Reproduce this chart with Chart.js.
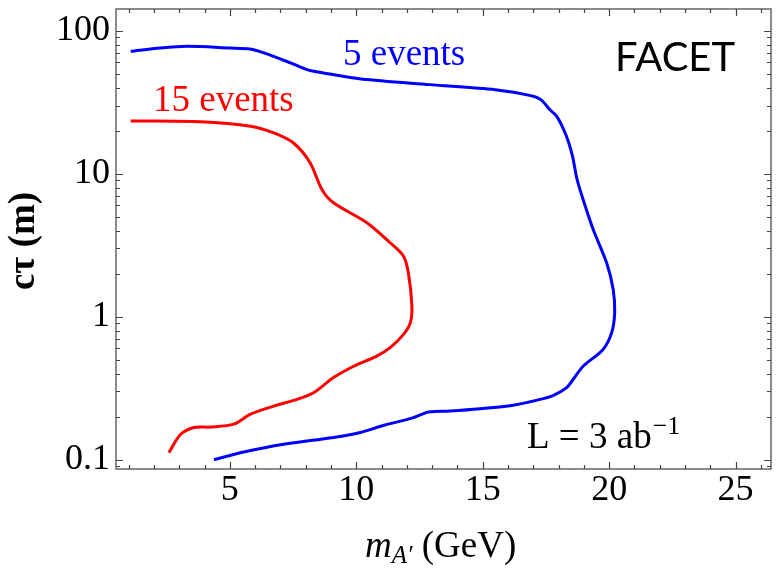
<!DOCTYPE html>
<html>
<head>
<meta charset="utf-8">
<script src="https://cdn.jsdelivr.net/npm/chart.js@4"></script>
<style>
  body { margin: 0; background: #fff; }
</style>
</head>
<body>
<canvas id="c" width="779" height="570"></canvas>
<script>
// 5 events contour (blue), traced from the top left round to the bottom
const blueMass = [1.08, 2.26, 3.3, 5.0, 5.8, 6.35, 7.4, 8.05, 8.7, 10.2, 12.9, 15.5, 16.9, 17.3, 17.65, 17.93, 18.3, 18.55, 18.72, 18.97, 19.37, 19.9, 20.16, 20.22, 20.1, 19.76, 18.97, 18.58, 18.32, 17.8, 17.27, 16.2, 14.9, 13.7, 12.92, 12.66, 12.2, 11.1, 10.16, 9.1, 7.13, 5.55, 4.37];
const blueCtau = [71.8, 75.8, 77.8, 75.8, 74.6, 70, 59.6, 53.5, 50.7, 46, 42, 38.7, 35.2, 33, 28.1, 25.2, 18.5, 13.3, 9.3, 6.6, 4.07, 2.38, 1.55, 1.07, 0.773, 0.59, 0.45, 0.365, 0.319, 0.282, 0.264, 0.24, 0.227, 0.219, 0.216, 0.21, 0.195, 0.174, 0.155, 0.143, 0.128, 0.113, 0.1];

// 15 events contour (red)
const redMass = [1.08, 3.84, 5.82, 6.74, 7.52, 8.18, 8.64, 9.1, 10.42, 11.34, 11.87, 12.06, 12.2, 12.14, 11.87, 11.34, 10.81, 9.9, 9.1, 8.31, 7.66, 6.74, 5.82, 5.16, 4.24, 3.58, 3.05, 2.59];
const redCtau = [23.4, 23.1, 21.5, 19.3, 16.4, 11.9, 7.76, 6.26, 4.54, 3.29, 2.65, 2.03, 1.19, 0.908, 0.752, 0.607, 0.53, 0.45, 0.375, 0.294, 0.264, 0.237, 0.208, 0.177, 0.169, 0.168, 0.15, 0.112];

// tick labels
const xMajorTicks = [5, 10, 15, 20, 25];
const yMajorTicks = [0.1, 1, 10, 100];

const X_MIN = 0.5, X_MAX = 26.4;
const Y_MIN = 0.086, Y_MAX = 142;

const serif = '"Liberation Serif", "Times New Roman", serif';
Chart.defaults.font.family = serif;
Chart.defaults.color = '#000';

const toPoints = (xs, ys) => xs.map((x, i) => ({ x: x, y: ys[i] }));

// minor tick positions (every GeV, and 2..9 per decade)
const xTickValues = [];
for (let v = 1; v <= 26; v++) xTickValues.push(v);
const yTickValues = [];
for (let d = -2; d <= 2; d++) {
  for (let m = 1; m <= 9; m++) {
    const v = m === 1 ? yMajorTicks.find(t => Math.abs(Math.log10(t) - d) < 1e-9) : m * Math.pow(10, d);
    if (v !== undefined && v >= Y_MIN && v <= Y_MAX) yTickValues.push(v);
  }
}

// frame, inward ticks and the text annotations
const framePlugin = {
  id: 'frame',
  afterDraw(chart) {
    const { ctx, chartArea: a, scales: { x, y } } = chart;
    ctx.save();
    ctx.strokeStyle = '#666';
    ctx.lineWidth = 1.5;
    ctx.strokeRect(a.left, a.top, a.right - a.left, a.bottom - a.top);

    ctx.strokeStyle = '#444';
    ctx.lineWidth = 1.2;
    ctx.beginPath();
    x.ticks.forEach(t => {
      const px = Math.round(x.getPixelForValue(t.value)) + 0.5;
      const len = xMajorTicks.includes(t.value) ? 7 : 4;
      ctx.moveTo(px, a.bottom); ctx.lineTo(px, a.bottom - len);
      ctx.moveTo(px, a.top); ctx.lineTo(px, a.top + len);
    });
    y.ticks.forEach(t => {
      const py = Math.round(y.getPixelForValue(t.value)) + 0.5;
      const len = yMajorTicks.includes(t.value) ? 7 : 4;
      ctx.moveTo(a.left, py); ctx.lineTo(a.left + len, py);
      ctx.moveTo(a.right, py); ctx.lineTo(a.right - len, py);
    });
    ctx.stroke();

    ctx.textBaseline = 'alphabetic';
    ctx.textAlign = 'left';

    ctx.font = '37px ' + serif;
    ctx.fillStyle = '#0000ff';
    ctx.fillText('5 events', 343, 65);
    ctx.fillStyle = '#ff0000';
    ctx.fillText('15 events', 153, 111);

    ctx.fillStyle = '#000';
    ctx.font = '40px Lato, "Open Sans", sans-serif';
    ctx.fillText('FACET', 615, 71);

    ctx.font = '37px ' + serif;
    ctx.fillText('L = 3 ab', 527, 448);
    let w = ctx.measureText('L = 3 ab').width;
    ctx.font = '26px ' + serif;
    ctx.fillText('\u22121', 527 + w + 1, 434);

    // x axis title
    let cx = 365;
    ctx.font = 'italic 37px ' + serif;
    ctx.fillText('m', cx, 557);
    cx += ctx.measureText('m').width;
    ctx.font = 'italic 25px ' + serif;
    ctx.fillText('A\u2032', cx, 563);
    cx += ctx.measureText('A\u2032').width;
    ctx.font = '37px ' + serif;
    ctx.fillText(' (GeV)', cx, 557);

    // y axis title
    ctx.translate(33.5, 241);
    ctx.rotate(-Math.PI / 2);
    ctx.textAlign = 'center';
    ctx.font = 'bold 37px ' + serif;
    ctx.fillText('c\u03c4 (m)', 0, 0);
    ctx.restore();
  }
};

const ctx = document.getElementById('c').getContext('2d');
const chart = new Chart(ctx, {
  type: 'scatter',
  data: {
    datasets: [
      {
        label: '5 events',
        data: toPoints(blueMass, blueCtau),
        showLine: true,
        borderColor: '#0000ff',
        borderWidth: 3,
        pointRadius: 0,
        tension: 0.3,
        fill: false
      },
      {
        label: '15 events',
        data: toPoints(redMass, redCtau),
        showLine: true,
        borderColor: '#ff0000',
        borderWidth: 3,
        pointRadius: 0,
        tension: 0.3,
        fill: false
      }
    ]
  },
  options: {
    responsive: false,
    animation: false,
    layout: { padding: { top: 9, right: 8, left: 0, bottom: 0 } },
    plugins: {
      legend: { display: false },
      tooltip: { enabled: false }
    },
    scales: {
      x: {
        type: 'linear',
        min: X_MIN,
        max: X_MAX,
        grid: { display: false, drawTicks: false },
        border: { display: false },
        afterBuildTicks: s => { s.ticks = xTickValues.map(v => ({ value: v })); },
        afterFit: s => { s.height = 101; s.paddingLeft = 0; s.paddingRight = 0; },
        ticks: {
          autoSkip: false,
          maxRotation: 0,
          padding: 0,
          font: { size: 36 },
          callback: v => xMajorTicks.includes(v) ? String(v) : ''
        }
      },
      y: {
        type: 'logarithmic',
        min: Y_MIN,
        max: Y_MAX,
        grid: { display: false, drawTicks: false },
        border: { display: false },
        afterBuildTicks: s => { s.ticks = yTickValues.map(v => ({ value: v })); },
        afterFit: s => { s.width = 116; s.paddingTop = 0; s.paddingBottom = 0; },
        ticks: {
          autoSkip: false,
          padding: 6,
          font: { size: 36 },
          callback: v => yMajorTicks.includes(v) ? String(v) : ''
        }
      }
    }
  },
  plugins: [framePlugin]
});
</script>
</body>
</html>
